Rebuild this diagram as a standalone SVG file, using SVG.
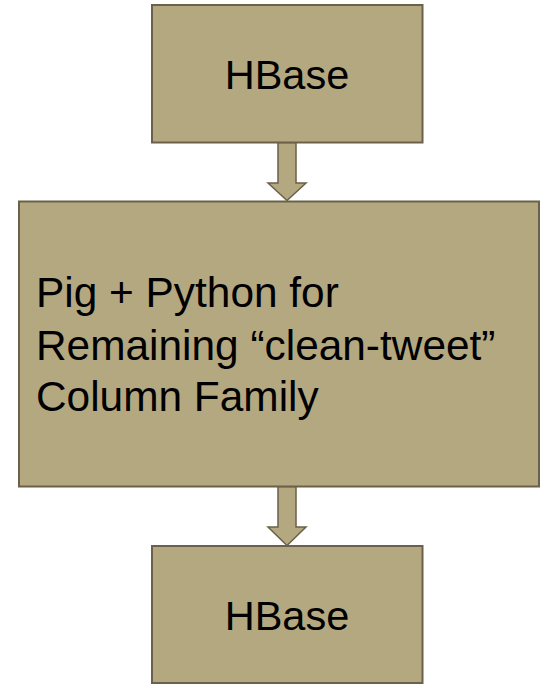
<svg xmlns="http://www.w3.org/2000/svg" width="545" height="686" viewBox="0 0 545 686">
<style>
.box{fill:#b4a880;stroke:#6b6049;stroke-width:2}
.arr{fill:#b4a880;stroke:#6b6049;stroke-width:1.5;stroke-linejoin:miter}
.t{font-family:"Liberation Sans",Arial,sans-serif;fill:#000}
</style>
<rect width="545" height="686" fill="#fff"/>
<g id="connectors">
<path class="arr" d="M278,142.5 H296 V183 H306 L287,200.5 L268,183 H278 Z"/>
<path class="arr" d="M278,486.5 H296 V527 H306 L287,545.5 L268,527 H278 Z"/>
</g>
<g id="hbase-top">
<rect class="box" x="152" y="5" width="270.5" height="137.5"/>
<text class="t" x="287" y="89" font-size="41.5" text-anchor="middle">HBase</text>
</g>
<g id="pig-python">
<rect class="box" x="19" y="201.5" width="520" height="285"/>
<text class="t" font-size="42.4"><tspan x="36" y="306.5">Pig + Python for</tspan><tspan x="36" y="359.5">Remaining “clean-tweet”</tspan><tspan x="36" y="411">Column Family</tspan></text>
</g>
<g id="hbase-bottom">
<rect class="box" x="152" y="546" width="270.5" height="137"/>
<text class="t" x="287" y="629.5" font-size="41.5" text-anchor="middle">HBase</text>
</g>
</svg>
